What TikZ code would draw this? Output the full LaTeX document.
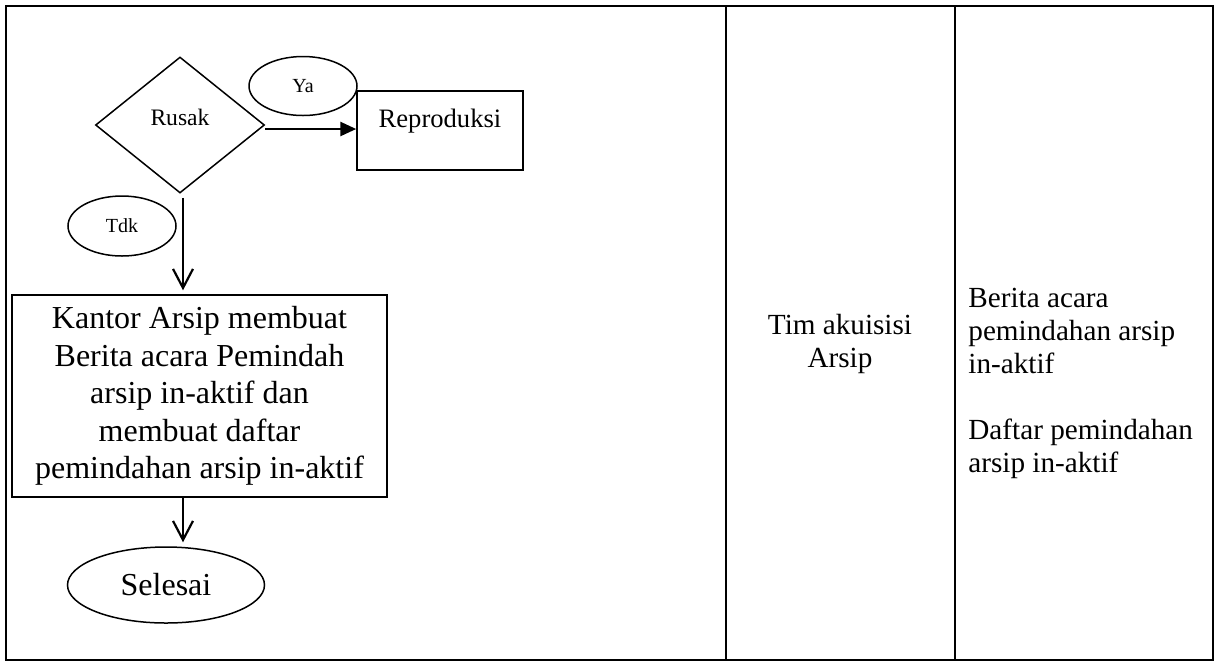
\documentclass[tikz,border=0pt]{standalone}
\usepackage{fontspec}
\setmainfont{Liberation Serif}
\usetikzlibrary{shapes.geometric,arrows.meta}

\begin{document}
\begin{tikzpicture}[x=0.5pt,y=-0.5pt,
		frame/.style={line width=1.1pt},
		decision/.style={diamond,draw,line width=0.75pt,inner sep=0pt,minimum width=84.5pt,minimum height=68pt,text depth=7.5pt,font=\fontsize{11.8}{14}\selectfont},
		answer/.style={ellipse,draw,line width=0.75pt,inner sep=0pt,minimum width=54pt,minimum height=29.5pt,font=\fontsize{10}{12}\selectfont},
		process/.style={rectangle,draw,line width=0.75pt,inner sep=0pt,align=center},
		terminal/.style={ellipse,draw,line width=0.75pt,inner sep=0pt,minimum width=98.5pt,minimum height=38pt,font=\fontsize{16}{19}\selectfont},
		cell/.style={inner sep=0pt,font=\fontsize{14.6}{16.5}\selectfont},
		flow/.style={line width=1.1pt,-{Straight Barb[length=9.5pt,width=10pt,line width=1.1pt]}},
		yes/.style={line width=1.3pt,-{Triangle[length=8pt,width=7pt]}}]
	\useasboundingbox (0,0) rectangle (1219,666);
	\draw[frame] (6,6) rectangle (1213,660);
	\draw[frame] (726,6) -- (726,660);
	\draw[frame] (955,6) -- (955,660);

	\node[decision] (rusak) at (180,125) {Rusak};
	\node[answer] (ya) at (303,86) {Ya};
	\node[process,minimum width=83pt,minimum height=39.5pt,text height=18pt,text depth=21.5pt,font=\fontsize{13.3}{16}\selectfont] (repro) at (440,130.5) {Reproduksi};
	\node[answer,minimum height=30pt] (tdk) at (122,226) {Tdk};
	\node[process,minimum width=187.5pt,minimum height=101pt,font=\fontsize{16}{18.75}\selectfont] (kantor) at (199.5,396) {Kantor Arsip membuat\\Berita acara Pemindah\\arsip in-aktif dan\\membuat daftar\\pemindahan arsip in-aktif};
	\node[terminal] (selesai) at (166,585) {Selesai};
	\coordinate (axis) at ([xshift=1.5pt]rusak.south);

	\node[cell,align=center] (tim) at (840,344) {Tim akuisisi\\Arsip};
	\node[cell,align=left,anchor=west] (dok) at (968,383) {Berita acara\\pemindahan arsip\\in-aktif\\[16.5pt]Daftar pemindahan\\arsip in-aktif};

	\draw[yes] ([yshift=-2pt]rusak.east) -- ([yshift=-2pt]rusak.east -| repro.west);
	\draw[flow,shorten <=2pt,shorten >=2pt] (axis) -- (axis |- kantor.north);
	\draw[flow,shorten >=2pt] (axis |- kantor.south) -- (axis |- selesai.north);
\end{tikzpicture}
\end{document}
